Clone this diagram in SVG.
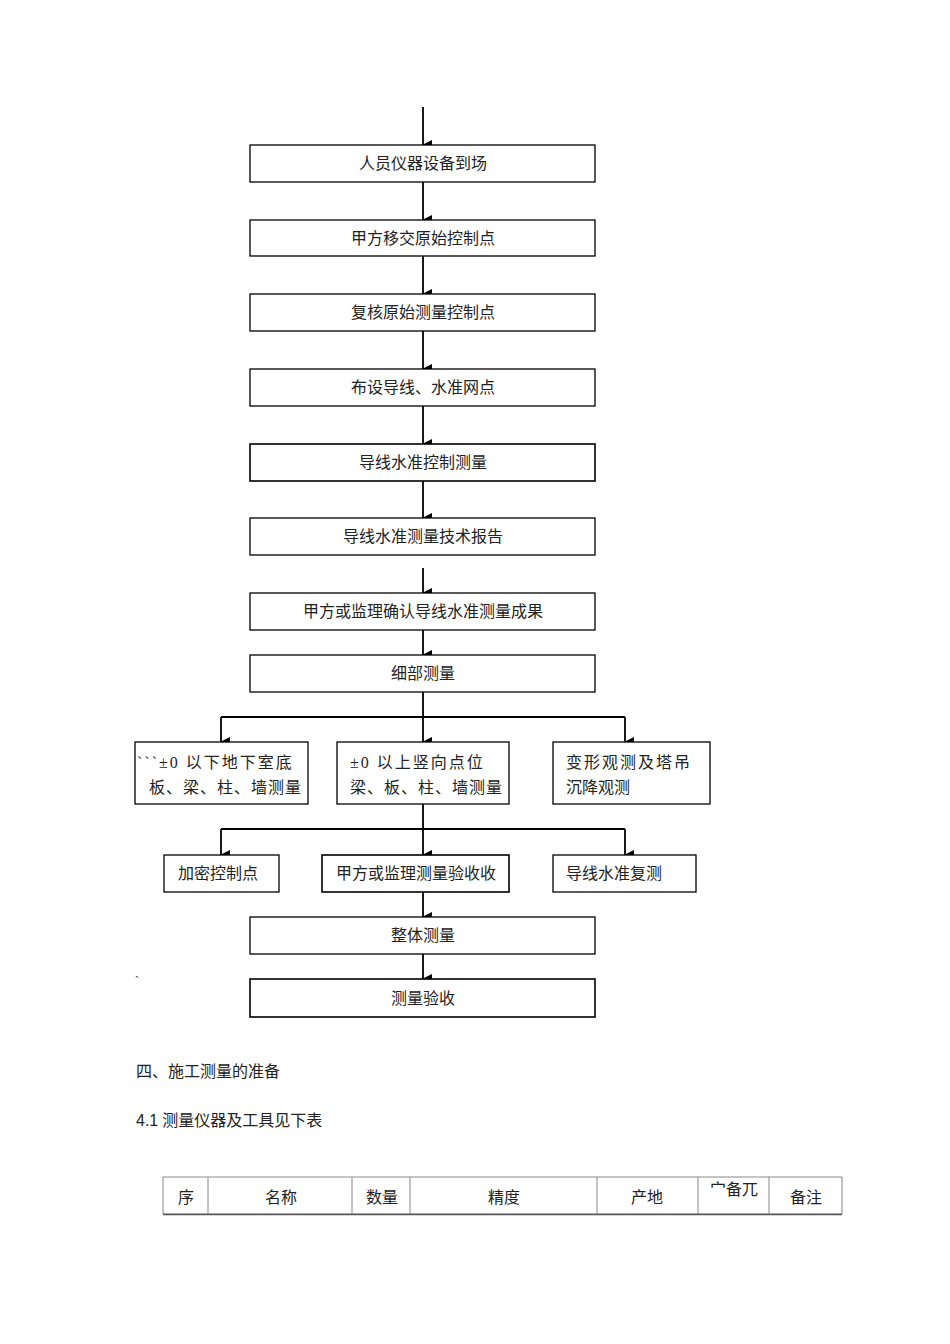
<svg xmlns="http://www.w3.org/2000/svg" width="950" height="1344" viewBox="0 0 950 1344">
<defs>
<marker id="a" markerWidth="10" markerHeight="10" refX="5" refY="9" orient="auto" markerUnits="userSpaceOnUse"><path d="M0,0 L10,0 L5,10 z" fill="#000"/></marker>
<style>
rect{fill:#fff;stroke:#000;stroke-width:1.3}
text{font-family:"Liberation Serif","Noto Sans CJK SC",serif;font-size:16px;fill:#222}
.c{text-anchor:middle}
.l{stroke:#000;stroke-width:1.8;fill:none}
.t{stroke:#888;stroke-width:1}
</style>
</defs>
<rect width="950" height="1344" style="stroke:none"/>
<g id="connectors">
<path class="l" marker-end="url(#a)" d="M423,107V145"/>
<path class="l" marker-end="url(#a)" d="M423,182V220"/>
<path class="l" marker-end="url(#a)" d="M423,256V294"/>
<path class="l" marker-end="url(#a)" d="M423,331V369"/>
<path class="l" marker-end="url(#a)" d="M423,406V444"/>
<path class="l" marker-end="url(#a)" d="M423,481V518"/>
<path class="l" marker-end="url(#a)" d="M423,568V593"/>
<path class="l" marker-end="url(#a)" d="M423,630V655"/>
<path class="l" d="M423,692V717M221,717H625"/>
<path class="l" marker-end="url(#a)" d="M221,717V742"/>
<path class="l" marker-end="url(#a)" d="M423,717V742"/>
<path class="l" marker-end="url(#a)" d="M625,717V742"/>
<path class="l" d="M423,804V829M221,829H625"/>
<path class="l" marker-end="url(#a)" d="M221,829V855"/>
<path class="l" marker-end="url(#a)" d="M423,829V855"/>
<path class="l" marker-end="url(#a)" d="M625,829V855"/>
<path class="l" marker-end="url(#a)" d="M423,892V917"/>
<path class="l" marker-end="url(#a)" d="M423,954V979"/>
</g>
<g id="n1"><rect x="250" y="145" width="345" height="37"/><text class="c" x="423" y="169">人员仪器设备到场</text></g>
<g id="n2"><rect x="250" y="220" width="345" height="36"/><text class="c" x="423" y="244">甲方移交原始控制点</text></g>
<g id="n3"><rect x="250" y="294" width="345" height="37"/><text class="c" x="423" y="318">复核原始测量控制点</text></g>
<g id="n4"><rect x="250" y="369" width="345" height="37"/><text class="c" x="423" y="393">布设导线、水准网点</text></g>
<g id="n5"><rect x="250" y="444" width="345" height="37" style="stroke-width:1.6"/><text class="c" x="423" y="468">导线水准控制测量</text></g>
<g id="n6"><rect x="250" y="518" width="345" height="37"/><text class="c" x="423" y="542">导线水准测量技术报告</text></g>
<g id="n7"><rect x="250" y="593" width="345" height="37"/><text class="c" x="423" y="617">甲方或监理确认导线水准测量成果</text></g>
<g id="n8"><rect x="250" y="655" width="345" height="37"/><text class="c" x="423" y="679">细部测量</text></g>
<g id="n9"><rect x="135" y="742" width="173" height="62"/><text x="137" y="768" letter-spacing="2">```±0 以下地下室底</text><text x="149" y="793" letter-spacing="1">板、梁、柱、墙测量</text></g>
<g id="n10"><rect x="337" y="742" width="172" height="62"/><text x="350" y="768" letter-spacing="2">±0 以上竖向点位</text><text x="350" y="793" letter-spacing="1">梁、板、柱、墙测量</text></g>
<g id="n11"><rect x="553" y="742" width="157" height="62"/><text x="566" y="768" letter-spacing="2">变形观测及塔吊</text><text x="566" y="793">沉降观测</text></g>
<g id="n12"><rect x="164" y="855" width="115" height="37"/><text x="178" y="879">加密控制点</text></g>
<g id="n13"><rect x="322" y="855" width="187" height="37" style="stroke-width:1.6"/><text x="336" y="879">甲方或监理测量验收收</text></g>
<g id="n14"><rect x="553" y="855" width="143" height="37"/><text x="566" y="879">导线水准复测</text></g>
<g id="n15"><rect x="250" y="917" width="345" height="37"/><text class="c" x="423" y="941">整体测量</text></g>
<g id="n16"><rect x="250" y="979" width="345" height="38" style="stroke-width:1.6"/><text class="c" x="423" y="1004">测量验收</text></g>
<text x="135" y="985" style="font-size:12px">`</text>
<text x="136" y="1077">四、施工测量的准备</text>
<text x="136" y="1126"><tspan style="font-family:'Liberation Sans',sans-serif">4.1</tspan> 测量仪器及工具见下表</text>
<g id="table">
<path class="t" d="M163,1177H842M163,1214H842M163,1177V1214M208,1177V1214M352,1177V1214M410,1177V1214M597,1177V1214M698,1177V1214M769,1177V1214M842,1177V1214"/>
<path d="M163,1214.5H842" stroke="#555" stroke-width="1.5"/>
<text class="c" x="186" y="1203">序</text>
<text class="c" x="281" y="1203">名称</text>
<text class="c" x="382" y="1203">数量</text>
<text class="c" x="504" y="1203">精度</text>
<text class="c" x="647" y="1203">产地</text>
<text class="c" x="734" y="1195">宀备兀</text>
<text class="c" x="806" y="1203">备注</text>
</g>
</svg>
